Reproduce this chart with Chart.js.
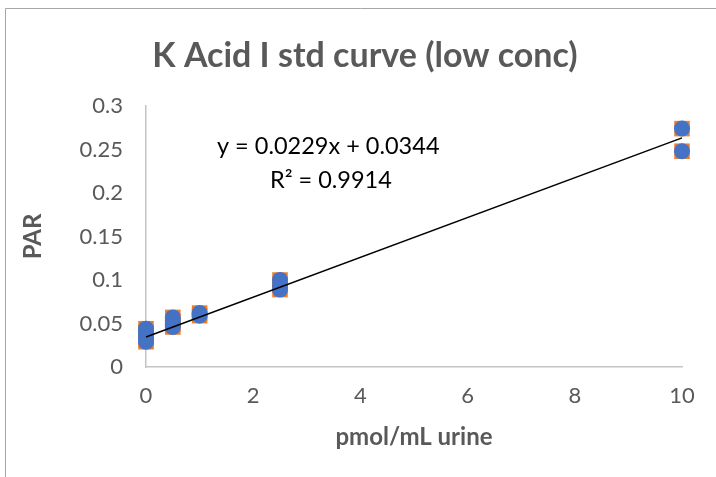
<!DOCTYPE html>
<html>
<head>
<meta charset="utf-8">
<script src="https://cdn.jsdelivr.net/npm/chart.js@4.4.0/dist/chart.umd.min.js"></script>
<style>
  body { margin: 0; background: #fff; }
  #wrap { width: 716px; height: 477px; }
</style>
</head>
<body>
<div id="wrap"><canvas id="grafico-std"></canvas></div>
<script>
// datos
var concentracion = [0, 0, 0, 0, 0, 0.5, 0.5, 0.5, 0.5, 1, 1, 2.5, 2.5, 2.5, 10, 10];
var par = [0.044, 0.040, 0.035, 0.031, 0.029, 0.057, 0.053, 0.049, 0.046, 0.062, 0.059, 0.100, 0.094, 0.089, 0.274, 0.248];
var pendiente = 0.0229;
var intercepto = 0.0344;
var rCuadrado = 0.9914;
var xTicks = [0, 2, 4, 6, 8, 10];
var yTicks = [0, 0.05, 0.1, 0.15, 0.2, 0.25, 0.3];

var puntos = concentracion.map(function (x, i) { return { x: x, y: par[i] }; });
var linea = [0, 10].map(function (x) { return { x: x, y: pendiente * x + intercepto }; });

var gris = '#595959';
var fuente = 'Lato, "Open Sans", sans-serif';

var textosExtra = {
    id: 'textosExtra',
    afterDraw: function (chart) {
        var ctx = chart.ctx;
        var area = chart.chartArea;
        var sx = chart.scales.x, sy = chart.scales.y;
        ctx.save();
        // marco
        ctx.strokeStyle = '#a6a6a6';
        ctx.lineWidth = 1;
        ctx.beginPath();
        ctx.moveTo(5.5, 477);
        ctx.lineTo(5.5, 8.5);
        ctx.lineTo(716, 8.5);
        ctx.stroke();
        // titulo
        ctx.fillStyle = gris;
        ctx.textAlign = 'center';
        ctx.textBaseline = 'middle';
        ctx.font = 'bold 34px ' + fuente;
        ctx.fillText('K Acid I std curve (low conc)', 365, 56);
        // titulos de ejes
        ctx.font = 'bold 24px ' + fuente;
        ctx.fillText('pmol/mL urine', (area.left + area.right) / 2, 437);
        ctx.translate(33, (area.top + area.bottom) / 2);
        ctx.rotate(-Math.PI / 2);
        ctx.fillText('PAR', 0, 0);
        ctx.restore();
        // ecuacion
        ctx.save();
        ctx.fillStyle = '#000';
        ctx.textAlign = 'center';
        ctx.textBaseline = 'middle';
        ctx.font = '23.5px ' + fuente;
        ctx.fillText('y = ' + pendiente + 'x + ' + intercepto, sx.getPixelForValue(3.4), sy.getPixelForValue(0.254));
        ctx.fillText('R\u00b2 = ' + rCuadrado, sx.getPixelForValue(3.45), sy.getPixelForValue(0.215));
        ctx.restore();
    }
};

const ctx = document.getElementById('grafico-std');
var myChart = new Chart(ctx, {
    type: 'scatter',
    data: {
        datasets: [{
            label: 'Linear',
            data: linea,
            showLine: true,
            borderColor: '#000',
            borderWidth: 1.5,
            pointRadius: 0,
            clip: false,
            order: 0
        }, {
            label: 'PAR',
            data: puntos,
            backgroundColor: '#4472C4',
            borderColor: '#4472C4',
            borderWidth: 0,
            pointRadius: 8,
            clip: false,
            order: 1
        }, {
            label: 'PAR 2',
            data: puntos,
            pointStyle: 'rect',
            backgroundColor: '#ED7D31',
            borderColor: '#ED7D31',
            borderWidth: 0,
            pointRadius: 11,
            clip: false,
            order: 2
        }]
    },
    options: {
        responsive: true,
        maintainAspectRatio: false,
        animation: false,
        layout: { padding: { top: 106, right: 34, left: 40, bottom: 0 } },
        plugins: {
            legend: { display: false },
            tooltip: { enabled: false }
        },
        scales: {
            x: {
                type: 'linear',
                min: 0,
                max: 10,
                afterBuildTicks: function (s) { s.ticks = xTicks.map(function (v) { return { value: v }; }); },
                afterFit: function (s) { s.height = 110; },
                grid: { display: false, drawTicks: false },
                border: { display: true, color: '#c4c4c4', width: 1.5 },
                ticks: { color: gris, font: { family: fuente, size: 22 }, padding: 16, maxRotation: 0 }
            },
            y: {
                min: 0,
                max: 0.3,
                afterBuildTicks: function (s) { s.ticks = yTicks.map(function (v) { return { value: v }; }); },
                afterFit: function (s) { s.width = 106; },
                grid: { display: false, drawTicks: false },
                border: { display: true, color: '#c4c4c4', width: 1.5 },
                ticks: {
                    color: gris, font: { family: fuente, size: 22 }, padding: 23,
                    callback: function (v) { return String(Math.round(v * 100) / 100); }
                }
            }
        }
    },
    plugins: [textosExtra]
});
</script>
</body>
</html>
